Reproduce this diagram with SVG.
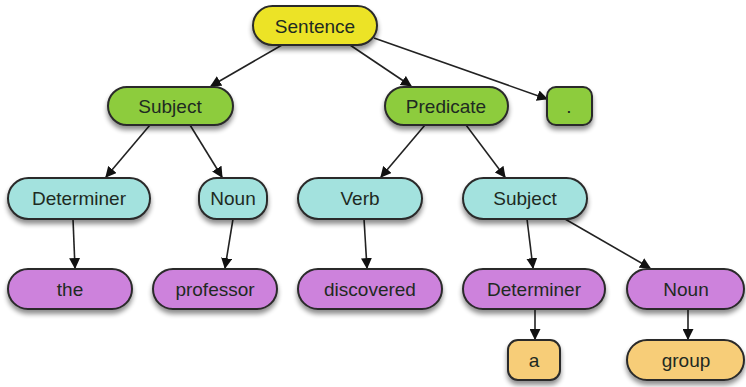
<svg xmlns="http://www.w3.org/2000/svg" width="746" height="387" viewBox="0 0 746 387">
<defs>
<marker id="arr" viewBox="0 0 10 10" refX="9" refY="5" markerWidth="11" markerHeight="11" markerUnits="userSpaceOnUse" orient="auto">
<path d="M0,0 L10,5 L0,10 z" fill="#111"/>
</marker>
<filter id="sh" x="-20%" y="-30%" width="140%" height="180%">
<feGaussianBlur in="SourceAlpha" stdDeviation="2.5"/>
<feOffset dx="0" dy="4" result="b"/>
<feComponentTransfer><feFuncA type="linear" slope="0.45"/></feComponentTransfer>
<feMerge><feMergeNode/><feMergeNode in="SourceGraphic"/></feMerge>
</filter>
<style>
.n rect{stroke:#2a2a2a;stroke-width:2;filter:url(#sh)}
.y rect{fill:#ece327}
.g rect{fill:#8dcc3e}
.c rect{fill:#a3e2de}
.p rect{fill:#cd82dc}
.o rect{fill:#f7cd78}
text{font-family:"Liberation Sans",Arial,sans-serif;font-size:19px;text-anchor:middle;dominant-baseline:central;fill:#1e2a22}
.conn line{stroke:#222;stroke-width:1.6;marker-end:url(#arr)}
</style>
</defs>
<g class="conn">
<line x1="282" y1="45" x2="211" y2="86"/>
<line x1="350" y1="45" x2="411" y2="86"/>
<line x1="374" y1="38" x2="547" y2="99"/>
<line x1="150" y1="125" x2="106" y2="177"/>
<line x1="190" y1="125" x2="222" y2="177"/>
<line x1="425" y1="125" x2="381" y2="177"/>
<line x1="466" y1="125" x2="505" y2="177"/>
<line x1="73" y1="219" x2="75" y2="268"/>
<line x1="233" y1="219" x2="225" y2="268"/>
<line x1="364" y1="219" x2="367" y2="268"/>
<line x1="527" y1="219" x2="533" y2="268"/>
<line x1="565" y1="219" x2="650" y2="268"/>
<line x1="535" y1="309" x2="535" y2="339"/>
<line x1="688" y1="309" x2="688" y2="339"/>
</g>
<g id="sentence" class="n y"><rect x="253" y="6" width="124" height="39" rx="19.5"/><text x="315" y="26">Sentence</text></g>
<g id="subject1" class="n g"><rect x="108" y="87" width="125" height="38" rx="19"/><text x="170" y="106">Subject</text></g>
<g id="predicate" class="n g"><rect x="385" y="87" width="123" height="38" rx="19"/><text x="446" y="106">Predicate</text></g>
<g id="period" class="n g"><rect x="547" y="87" width="45" height="38" rx="9"/><text x="569" y="106">.</text></g>
<g id="determiner1" class="n c"><rect x="8" y="178" width="142" height="41" rx="20.5"/><text x="79" y="198">Determiner</text></g>
<g id="noun1" class="n c"><rect x="199" y="178" width="68" height="41" rx="18"/><text x="233" y="198">Noun</text></g>
<g id="verb" class="n c"><rect x="298" y="178" width="124" height="41" rx="20.5"/><text x="360" y="198">Verb</text></g>
<g id="subject2" class="n c"><rect x="463" y="178" width="124" height="41" rx="20.5"/><text x="525" y="198">Subject</text></g>
<g id="the" class="n p"><rect x="8" y="269" width="124" height="40" rx="20"/><text x="70" y="289">the</text></g>
<g id="professor" class="n p"><rect x="153" y="269" width="124" height="40" rx="20"/><text x="215" y="289">professor</text></g>
<g id="discovered" class="n p"><rect x="298" y="269" width="144" height="40" rx="20"/><text x="370" y="289">discovered</text></g>
<g id="determiner2" class="n p"><rect x="463" y="269" width="142" height="40" rx="20"/><text x="534" y="289">Determiner</text></g>
<g id="noun2" class="n p"><rect x="627" y="269" width="117" height="40" rx="20"/><text x="686" y="289">Noun</text></g>
<g id="a" class="n o"><rect x="508" y="340" width="52" height="40" rx="10"/><text x="534" y="360">a</text></g>
<g id="group" class="n o"><rect x="627" y="340" width="117" height="40" rx="20"/><text x="686" y="360">group</text></g>
</svg>
